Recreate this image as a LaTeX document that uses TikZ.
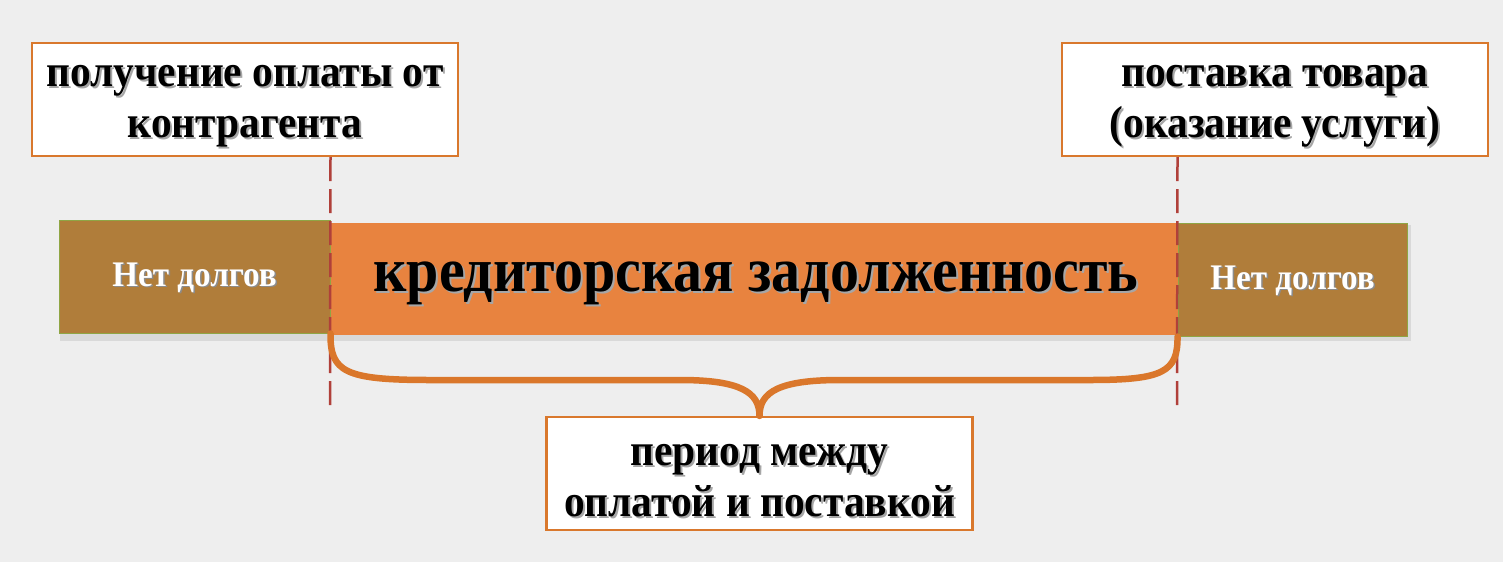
\documentclass[tikz,border=0pt]{standalone}
\usepackage{fontspec}
\setmainfont{Liberation Serif}[FakeStretch=0.92]
\usetikzlibrary{calc}
\definecolor{bg}{HTML}{EEEEEE}
\definecolor{barorange}{HTML}{E8833F}
\definecolor{barbrown}{HTML}{B07D3A}
\definecolor{brownedge}{HTML}{8FA544}
\definecolor{boxedge}{HTML}{D9782D}
\definecolor{bracecol}{HTML}{DA772B}
\definecolor{dashcol}{HTML}{B0403A}
\newcommand\shd[1]{\leavevmode\rlap{\hspace{2pt}\raisebox{-2pt}{\textcolor{black!35}{#1}}}#1}
\newcommand\shw[1]{\leavevmode\rlap{\hspace{1.5pt}\raisebox{-1.5pt}{\textcolor{black!45}{#1}}}\textcolor{white}{#1}}
\tikzset{
  labelbox/.style={draw=boxedge, line width=2.2pt, fill=white, minimum width=426pt, minimum height=113pt, inner sep=0pt},
  labeltext/.style={align=center, inner sep=0pt, font=\fontsize{45}{51}\selectfont\bfseries},
  brownbar/.style={draw=brownedge, line width=1pt, fill=barbrown, minimum height=113pt, inner sep=0pt},
  browntext/.style={inner sep=0pt, font=\fontsize{36}{40}\selectfont\bfseries},
  orangebar/.style={fill=barorange, minimum height=112pt, minimum width=848pt, inner sep=0pt},
  debttext/.style={inner sep=0pt, font=\fontsize{63}{70}\selectfont\bfseries},
  dashline/.style={draw=dashcol, line width=2.5pt, dash pattern=on 24pt off 8pt},
  bracepath/.style={draw=bracecol, line width=6.5pt, line cap=round, line join=round},
}
\begin{document}
\begin{tikzpicture}[x=1pt,y=-1pt]
\fill[bg] (0,0) rectangle (1503,562);
\useasboundingbox (0,0) rectangle (1503,562);
% bar shadow
\fill[black!25] (61,226) rectangle (1410,339);
\fill[black!15] (60,225) rectangle (1411,341);
\node[orangebar] (debt) at (754,279) {};
\node[debttext] (debtlabel) at ($(debt.center)+(2,5)$) {\shd{кредиторская задолженность}};
\node[brownbar, minimum width=271pt] (lbrown) at (194.5,276.5) {};
\node[browntext] (llabel) at ($(lbrown.center)+(0,2)$) {\shw{Нет долгов}};
\node[brownbar, minimum width=229pt] (rbrown) at (1292.5,279.5) {};
\node[browntext] (rlabel) at ($(rbrown.center)+(0,2)$) {\shw{Нет долгов}};
\node[labelbox] (pay) at (245,99.5) {};
\node[labeltext] (paylabel) at ($(pay.center)+(0,8)$) {\shd{получение оплаты от}\\\shd{контрагента}};
\node[labelbox] (deliv) at (1275,99.5) {};
\node[labeltext] (delivlabel) at ($(deliv.center)+(0,8)$) {\shd{поставка товара}\\\shd{(оказание услуги)}};
\node[labelbox] (period) at (759.5,473.5) {};
\node[labeltext] (periodlabel) at ($(period.center)+(0,8)$) {\shd{период между}\\\shd{оплатой и поставкой}};
\coordinate (d1end) at (330,410);
\coordinate (d2end) at (1177,412);
\draw[dashline] (pay.south -| lbrown.east) -- (d1end);
\draw[dashline] (deliv.south -| rbrown.west) -- (d2end);
\draw[bracepath] (lbrown.south east) .. controls (330,372) and (345,380) .. (430,380)
  -- (680,380) .. controls (740,380) and (759.5,392) .. (period.north)
  .. controls (759.5,392) and (779,380) .. (840,380)
  -- (1090,380) .. controls (1163,380) and (1178,372) .. (rbrown.south west);
\end{tikzpicture}
\end{document}
